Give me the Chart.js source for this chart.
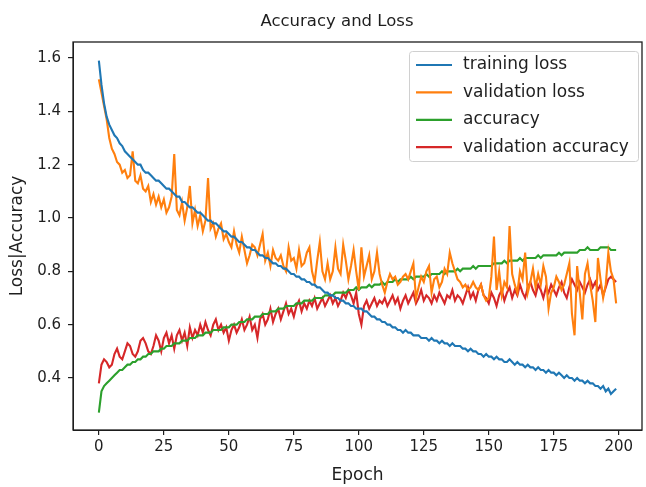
<!DOCTYPE html>
<html lang="en">
<head>
    <meta charset="UTF-8">
    <title>Accuracy and Loss</title>
    <script src="https://cdn.jsdelivr.net/npm/chart.js"></script>
    <style>
        body { margin: 0; background: #fff; }
        #wrap { width: 646px; height: 487px; }
    </style>
</head>
<body>
    <div id="wrap"><canvas id="lossChart" width="646" height="487"></canvas></div>
    <script>
        const chartTitle = 'Accuracy and Loss';
        const seriesLabels = ['training loss', 'validation loss', 'accuracy', 'validation accuracy'];
        const seriesColors = ['#1f77b4', '#ff7f0e', '#2ca02c', '#d62728'];
        const xTicks = [0, 25, 50, 75, 100, 125, 150, 175, 200];
        const yTicks = [0.4, 0.6, 0.8, 1.0, 1.2, 1.4, 1.6];

        const trainLoss = [
            1.59, 1.50, 1.43, 1.38, 1.35, 1.33, 1.31, 1.30, 1.28, 1.27,
            1.25, 1.24, 1.23, 1.22, 1.21, 1.20, 1.20, 1.18, 1.17, 1.17,
            1.16, 1.15, 1.14, 1.14, 1.13, 1.12, 1.11, 1.11, 1.10, 1.09,
            1.08, 1.08, 1.06, 1.06, 1.05, 1.04, 1.04, 1.03, 1.02, 1.02,
            1.01, 1.00, 0.99, 0.99, 0.98, 0.98, 0.97, 0.96, 0.95, 0.95,
            0.94, 0.93, 0.93, 0.92, 0.91, 0.91, 0.90, 0.89, 0.89, 0.88,
            0.88, 0.87, 0.86, 0.86, 0.85, 0.85, 0.84, 0.83, 0.83, 0.82,
            0.82, 0.81, 0.81, 0.80, 0.79, 0.79, 0.78, 0.78, 0.77, 0.77,
            0.76, 0.76, 0.75, 0.75, 0.74, 0.74, 0.73, 0.72, 0.72, 0.71,
            0.71, 0.70, 0.70, 0.69, 0.69, 0.68, 0.68, 0.67, 0.67, 0.66,
            0.66, 0.66, 0.65, 0.65, 0.64, 0.63, 0.63, 0.62, 0.62, 0.61,
            0.61, 0.60, 0.60, 0.59, 0.59, 0.58, 0.58, 0.57, 0.58, 0.57,
            0.57, 0.56, 0.56, 0.56, 0.55, 0.55, 0.55, 0.54, 0.55, 0.54,
            0.54, 0.53, 0.54, 0.53, 0.53, 0.52, 0.53, 0.52, 0.52, 0.52,
            0.51, 0.51, 0.50, 0.51, 0.50, 0.50, 0.49, 0.49, 0.48, 0.49,
            0.48, 0.48, 0.47, 0.48, 0.47, 0.47, 0.46, 0.46, 0.47, 0.46,
            0.45, 0.46, 0.45, 0.45, 0.44, 0.45, 0.44, 0.44, 0.43, 0.44,
            0.43, 0.43, 0.42, 0.43, 0.42, 0.42, 0.41, 0.42, 0.41, 0.40,
            0.41, 0.40, 0.40, 0.39, 0.40, 0.39, 0.39, 0.38, 0.39, 0.38,
            0.38, 0.37, 0.37, 0.36, 0.37, 0.35, 0.36, 0.34, 0.35, 0.36
        ];

        const valLoss = [
            1.52, 1.47, 1.42, 1.37, 1.30, 1.26, 1.24, 1.21, 1.20, 1.17,
            1.18, 1.15, 1.16, 1.25, 1.14, 1.13, 1.16, 1.11, 1.10, 1.12,
            1.06, 1.09, 1.05, 1.08, 1.04, 1.07, 1.02, 1.04, 1.08, 1.24,
            1.03, 1.01, 1.06, 0.99, 1.04, 1.12, 0.98, 1.03, 0.97, 1.01,
            0.95, 0.99, 1.15, 0.96, 0.98, 0.93, 0.96, 0.98, 0.92, 0.94,
            0.91, 0.89, 0.95, 0.90, 0.87, 0.93, 0.88, 0.83, 0.86, 0.90,
            0.89, 0.86, 0.90, 0.94, 0.84, 0.87, 0.82, 0.88, 0.85, 0.84,
            0.86, 0.82, 0.80, 0.89, 0.84, 0.85, 0.81, 0.88, 0.82, 0.83,
            0.87, 0.89, 0.80, 0.76, 0.84, 0.91, 0.80, 0.77, 0.83, 0.77,
            0.80, 0.89, 0.81, 0.79, 0.90, 0.84, 0.77, 0.82, 0.88, 0.80,
            0.73, 0.89, 0.78, 0.82, 0.86, 0.77, 0.80, 0.87, 0.79, 0.75,
            0.72, 0.76, 0.79, 0.77, 0.78, 0.75, 0.76, 0.78, 0.79, 0.77,
            0.80, 0.83, 0.70, 0.74, 0.78, 0.76, 0.80, 0.82, 0.72, 0.77,
            0.78, 0.74, 0.76, 0.81, 0.79, 0.87, 0.83, 0.80, 0.77, 0.76,
            0.74, 0.75, 0.73, 0.74, 0.76, 0.74, 0.73, 0.75, 0.71, 0.69,
            0.70, 0.78, 0.93, 0.73, 0.80, 0.71, 0.76, 0.74, 0.97, 0.79,
            0.75, 0.72, 0.80, 0.77, 0.87, 0.72, 0.76, 0.81, 0.74, 0.79,
            0.75, 0.82, 0.78, 0.66, 0.72, 0.74, 0.78, 0.76, 0.73, 0.75,
            0.79, 0.83, 0.64, 0.56, 0.82, 0.72, 0.62, 0.79, 0.83, 0.75,
            0.69, 0.61, 0.85, 0.77, 0.70, 0.75, 0.87, 0.80, 0.77, 0.68
        ];

        const trainAcc = [
            0.27, 0.35, 0.37, 0.38, 0.39, 0.40, 0.41, 0.42, 0.43, 0.43,
            0.44, 0.45, 0.45, 0.46, 0.46, 0.47, 0.47, 0.48, 0.48, 0.49,
            0.49, 0.50, 0.50, 0.50, 0.51, 0.51, 0.52, 0.52, 0.52, 0.53,
            0.53, 0.53, 0.54, 0.54, 0.54, 0.55, 0.55, 0.55, 0.56, 0.56,
            0.56, 0.57, 0.57, 0.57, 0.58, 0.58, 0.58, 0.58, 0.59, 0.59,
            0.59, 0.60, 0.60, 0.60, 0.61, 0.61, 0.61, 0.62, 0.62, 0.62,
            0.63, 0.63, 0.63, 0.64, 0.64, 0.64, 0.65, 0.65, 0.65, 0.66,
            0.66, 0.66, 0.67, 0.67, 0.67, 0.67, 0.68, 0.68, 0.68, 0.69,
            0.69, 0.69, 0.69, 0.70, 0.70, 0.70, 0.70, 0.71, 0.71, 0.71,
            0.71, 0.72, 0.72, 0.72, 0.72, 0.72, 0.73, 0.73, 0.73, 0.74,
            0.73, 0.74, 0.74, 0.74, 0.75, 0.74, 0.75, 0.75, 0.75, 0.76,
            0.75, 0.76, 0.76, 0.76, 0.77, 0.76, 0.77, 0.77, 0.77, 0.77,
            0.78, 0.77, 0.78, 0.78, 0.78, 0.78, 0.79, 0.78, 0.79, 0.79,
            0.79, 0.79, 0.80, 0.79, 0.80, 0.80, 0.80, 0.80, 0.81, 0.80,
            0.81, 0.81, 0.81, 0.81, 0.82, 0.81, 0.82, 0.82, 0.82, 0.82,
            0.82, 0.82, 0.83, 0.83, 0.83, 0.83, 0.84, 0.83, 0.84, 0.84,
            0.84, 0.84, 0.85, 0.84, 0.85, 0.85, 0.85, 0.85, 0.85, 0.86,
            0.85, 0.86, 0.86, 0.86, 0.86, 0.86, 0.86, 0.87, 0.86, 0.87,
            0.87, 0.87, 0.87, 0.87, 0.87, 0.88, 0.88, 0.88, 0.89, 0.88,
            0.88, 0.88, 0.88, 0.89, 0.89, 0.89, 0.89, 0.88, 0.88, 0.88
        ];

        const valAcc = [
            0.38, 0.45, 0.47, 0.46, 0.44, 0.45, 0.49, 0.51, 0.48, 0.47,
            0.50, 0.53, 0.52, 0.49, 0.48, 0.50, 0.54, 0.55, 0.53, 0.50,
            0.49, 0.52, 0.56, 0.54, 0.50, 0.55, 0.57, 0.53, 0.56, 0.51,
            0.56, 0.58, 0.54, 0.57, 0.52, 0.59, 0.55, 0.58, 0.56, 0.60,
            0.57, 0.61, 0.58, 0.56, 0.60, 0.62, 0.58, 0.60, 0.57, 0.59,
            0.54, 0.58, 0.60, 0.57, 0.59, 0.62, 0.58, 0.60, 0.63, 0.58,
            0.60, 0.55, 0.62, 0.64, 0.60, 0.62, 0.66, 0.61, 0.64, 0.66,
            0.62, 0.65, 0.68, 0.64, 0.66, 0.63, 0.67, 0.69, 0.65, 0.68,
            0.66, 0.69, 0.67, 0.70, 0.66, 0.68, 0.70, 0.67, 0.69, 0.71,
            0.68, 0.70, 0.67, 0.69, 0.72, 0.70, 0.73, 0.71, 0.68, 0.72,
            0.64, 0.60, 0.67, 0.69, 0.66, 0.68, 0.70, 0.67, 0.69, 0.68,
            0.70, 0.67, 0.69, 0.71, 0.68, 0.70, 0.66, 0.69, 0.71, 0.68,
            0.70, 0.72, 0.68, 0.70, 0.73, 0.69, 0.71, 0.70, 0.68, 0.71,
            0.69, 0.72, 0.70, 0.68, 0.71, 0.70, 0.73, 0.69, 0.71, 0.70,
            0.68, 0.71, 0.74, 0.70, 0.72, 0.69, 0.73, 0.75, 0.71, 0.70,
            0.68, 0.72, 0.70, 0.67, 0.71, 0.73, 0.69, 0.72, 0.74, 0.70,
            0.73, 0.71, 0.75, 0.72, 0.70, 0.74, 0.76, 0.73, 0.71, 0.75,
            0.73, 0.70, 0.74, 0.72, 0.75, 0.73, 0.71, 0.74, 0.76, 0.72,
            0.70, 0.74, 0.77, 0.75, 0.73, 0.76, 0.74, 0.72, 0.75, 0.77,
            0.74, 0.76, 0.73, 0.75, 0.71, 0.74, 0.77, 0.78, 0.77, 0.76
        ];

        const epochs = trainLoss.map((_, i) => i);
        const allSeries = [trainLoss, valLoss, trainAcc, valAcc];

        const font = 'DejaVu Sans';
        const ink = '#1e1e1e';

        // title, frame round the plot and legend box like matplotlib
        const framePlugin = {
            id: 'frame',
            afterDraw(chart) {
                const { ctx, chartArea: a } = chart;
                ctx.save();
                ctx.strokeStyle = ink;
                ctx.lineWidth = 1.3;
                ctx.strokeRect(a.left, a.top, a.right - a.left, a.bottom - a.top);

                ctx.fillStyle = ink;
                ctx.font = '16.5px "' + font + '"';
                ctx.textAlign = 'center';
                ctx.textBaseline = 'middle';
                ctx.fillText(chartTitle, 337, 22);

                const boxL = 409, boxT = 51, boxR = 638, boxB = 161;
                ctx.fillStyle = 'rgba(255,255,255,0.85)';
                ctx.strokeStyle = '#d0d0d0';
                ctx.lineWidth = 1;
                ctx.beginPath();
                ctx.roundRect(boxL + 0.5, boxT + 0.5, boxR - boxL, boxB - boxT, 3);
                ctx.fill();
                ctx.stroke();
                ctx.font = '17px "' + font + '"';
                ctx.textAlign = 'left';
                chart.data.datasets.forEach((ds, i) => {
                    const y = boxT + 14 + i * 27.4;
                    ctx.strokeStyle = ds.borderColor;
                    ctx.lineWidth = 2.2;
                    ctx.beginPath();
                    ctx.moveTo(boxL + 7, y);
                    ctx.lineTo(boxL + 43, y);
                    ctx.stroke();
                    ctx.fillStyle = ink;
                    ctx.fillText(ds.label, boxL + 54, y);
                });
                ctx.restore();
            }
        };

        new Chart(document.getElementById('lossChart'), {
            type: 'line',
            data: {
                datasets: seriesLabels.map((label, i) => ({
                    label: label,
                    data: allSeries[i].map((v, j) => ({ x: epochs[j], y: v })),
                    borderColor: seriesColors[i],
                    backgroundColor: seriesColors[i],
                    borderWidth: 2.1,
                    pointRadius: 0,
                    tension: 0,
                    fill: false
                }))
            },
            options: {
                responsive: false,
                animation: false,
                layout: { padding: { left: 0, right: 4, top: 42, bottom: 0 } },
                plugins: {
                    legend: { display: false },
                    tooltip: { enabled: false },
                    title: { display: false }
                },
                scales: {
                    x: {
                        type: 'linear',
                        min: -9.95,
                        max: 208.95,
                        afterBuildTicks: s => { s.ticks = xTicks.map(v => ({ value: v })); },
                        afterFit: s => { s.height = 57; },
                        grid: { drawOnChartArea: false, drawTicks: true, tickLength: 5, color: ink, lineWidth: 1.2 },
                        border: { display: true, color: ink },
                        ticks: {
                            color: ink,
                            font: { family: font, size: 15 },
                            padding: 3,
                            maxRotation: 0,
                            callback: v => String(v)
                        },
                        title: {
                            display: true,
                            text: 'Epoch',
                            color: ink,
                            font: { family: font, size: 17 },
                            padding: { top: 0, bottom: 1 }
                        }
                    },
                    y: {
                        type: 'linear',
                        min: 0.205,
                        max: 1.66,
                        afterBuildTicks: s => { s.ticks = yTicks.map(v => ({ value: v })); },
                        afterFit: s => { s.width = 73; },
                        grid: { drawOnChartArea: false, drawTicks: true, tickLength: 5, color: ink, lineWidth: 1.2 },
                        border: { display: true, color: ink },
                        ticks: {
                            color: ink,
                            font: { family: font, size: 15 },
                            padding: 7,
                            callback: v => v.toFixed(1)
                        },
                        title: {
                            display: true,
                            text: 'Loss|Accuracy',
                            color: ink,
                            font: { family: font, size: 17 },
                            padding: { top: 7, bottom: 0 }
                        }
                    }
                }
            },
            plugins: [framePlugin]
        });
    </script>
</body>
</html>
